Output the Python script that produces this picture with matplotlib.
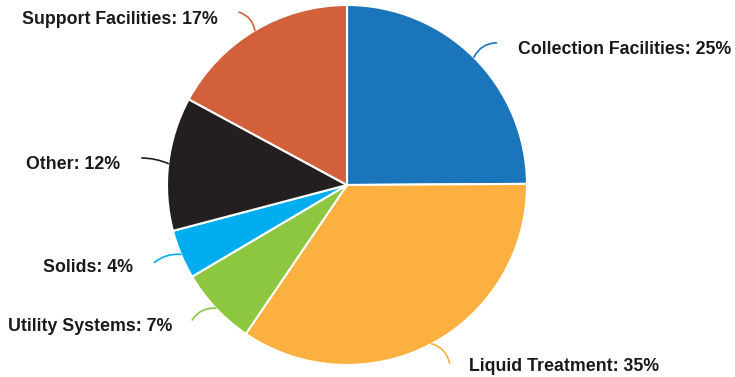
import numpy as np
import matplotlib.pyplot as plt

labels = ['Collection Facilities', 'Liquid Treatment', 'Utility Systems',
          'Solids', 'Other', 'Support Facilities']
values = [24.9, 34.6, 7.0, 4.4, 12.0, 17.1]
colors = ['#1b75bb', '#fbb040', '#8dc63f', '#00aeef', '#231f20', '#d2603a']

# label text anchor points (data units, radius = 1) and connector ends
label_pos = [(0.95, 0.752), (0.68, -1.008), (-0.97, -0.788),
             (-1.19, -0.458), (-1.26, 0.112), (-0.72, 0.922)]
elbow_pos = [(0.83, 0.79), (0.57, -0.99), (-0.86, -0.75),
             (-1.07, -0.43), (-1.14, 0.15), (-0.6, 0.96)]
curve = [0.3, 0.3, 0.3, 0.2, 0.1, 0.3]

plt.rcParams['font.family'] = ['Liberation Sans', 'DejaVu Sans']

fig = plt.figure(figsize=(7.35, 3.77), dpi=100)
ax = fig.add_axes([167 / 735, 12 / 377, 360 / 735, 360 / 377])
wedges, _ = ax.pie(values, colors=colors, startangle=90, counterclock=False,
                   wedgeprops=dict(edgecolor='white', linewidth=1.5))
ax.set_xlim(-1, 1)
ax.set_ylim(-1, 1)
ax.set_aspect('equal')
ax.axis('off')

for w, lab, v, c, lp, ep, rad in zip(wedges, labels, values, colors, label_pos, elbow_pos, curve):
    ang = np.deg2rad((w.theta1 + w.theta2) / 2)
    p = (np.cos(ang), np.sin(ang))
    ha = 'left' if p[0] > 0 else 'right'
    ax.annotate('', xy=p, xytext=ep,
                arrowprops=dict(arrowstyle='-', color=c, lw=1.2,
                                connectionstyle='arc3,rad=%s' % (rad if p[0] > 0 else -rad),
                                shrinkA=0, shrinkB=0),
                annotation_clip=False)
    ax.text(lp[0], lp[1], '%s: %d%%' % (lab, round(v)), ha=ha, va='center',
            fontsize=12.8, fontweight='bold', color='#1a1a1a', clip_on=False)

fig.savefig('out.png', dpi=100)
